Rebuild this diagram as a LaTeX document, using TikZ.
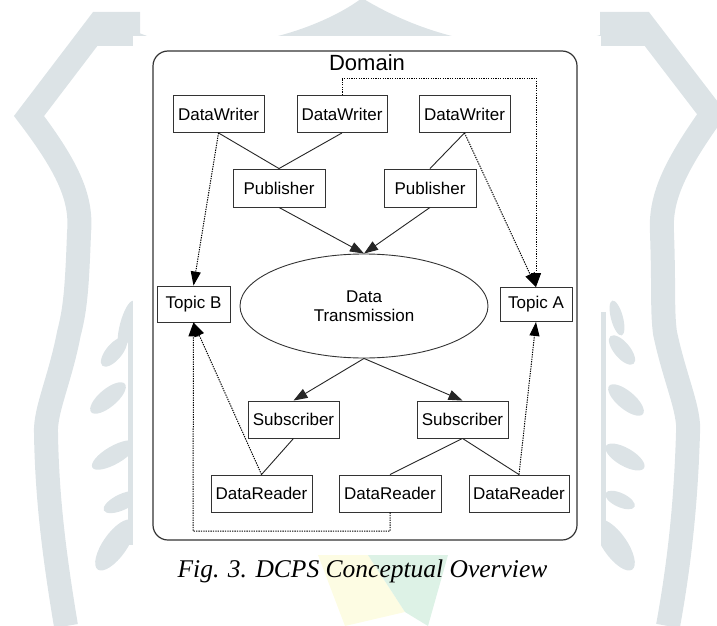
\documentclass[tikz,border=0pt]{standalone}
\usepackage{fontspec}
\setmainfont{Liberation Sans}
\newfontfamily\capfont{Liberation Serif}
\usetikzlibrary{arrows.meta,shapes.geometric}
\definecolor{wm}{HTML}{DCE3E6}
\definecolor{wmy}{HTML}{FDFCE3}
\definecolor{wmg}{HTML}{DDF2E6}
\begin{document}
\begin{tikzpicture}[x=1pt,y=-1pt,
  box/.style={draw=black!80, line width=0.9pt, inner sep=0pt, minimum height=37pt,
    font=\fontsize{17}{19}\selectfont, fill=white},
  link/.style={draw=black!85, line width=0.9pt},
  tip/.style={-{Triangle[length=14pt,width=10pt]}},
  arr/.style={link, tip},
  dot/.style={draw=black, line width=1pt, dash pattern=on 1.3pt off 1.1pt},
  dotarr/.style={dot, tip},
  leaf/.style={fill=wm},
]
\useasboundingbox (0,0) rectangle (717,626);
% ---- watermark ----
\fill[wmy] (318,555) -- (368,555) -- (405,612) -- (345,626) -- cycle;
\fill[wmg] (368,555) -- (448,555) -- (428,626) -- (405,612) -- cycle;
\fill[wm] (96,13) .. controls (130,30) and (160,45) .. (200,46)
  .. controls (280,46) and (340,15) .. (362,-2)
  .. controls (390,15) and (450,46) .. (530,46)
  .. controls (580,46) and (620,30) .. (647,13) -- (647,46) -- (96,46) -- cycle;
\draw[wm, line width=24pt, line join=miter]
  (140,24) -- (99,24) -- (29,116) .. controls (70,170) and (82,200) .. (79,233)
  .. controls (77,290) and (75,310) .. (69,333) .. controls (60,380) and (45,410) .. (46,433)
  .. controls (47,500) and (55,560) .. (66,626);
\draw[wm, line width=24pt, line join=miter]
  (600,24) -- (643,24) -- (712,114) .. controls (672,170) and (660,200) .. (662,233)
  .. controls (664,290) and (662,310) .. (665,333) .. controls (675,380) and (690,410) .. (688,433)
  .. controls (686,500) and (680,560) .. (668,626);
% leaves left
\fill[wm] (128,312) rectangle (134,545);
\fill[leaf, rotate around={-15:(127,325)}] (127,325) ellipse (7 and 25);
\fill[leaf, rotate around={-40:(114,352)}] (114,352) ellipse (8 and 18);
\fill[leaf, rotate around={-50:(108,398)}] (108,398) ellipse (9 and 22);
\fill[leaf, rotate around={-60:(114,455)}] (114,455) ellipse (9 and 25);
\fill[leaf, rotate around={-65:(122,502)}] (122,502) ellipse (8 and 20);
\fill[leaf, rotate around={-35:(115,545)}] (115,545) ellipse (12 and 30);
% leaves right
\fill[wm] (600,312) rectangle (606,545);
\fill[leaf, rotate around={15:(617,318)}] (617,318) ellipse (6 and 18);
\fill[leaf, rotate around={40:(622,350)}] (622,350) ellipse (8 and 18);
\fill[leaf, rotate around={50:(626,400)}] (626,400) ellipse (9 and 22);
\fill[leaf, rotate around={60:(625,457)}] (625,457) ellipse (9 and 22);
\fill[leaf, rotate around={65:(620,500)}] (620,500) ellipse (7 and 16);
\fill[leaf, rotate around={35:(615,545)}] (615,545) ellipse (12 and 30);
% white panel
\fill[white] (133,36) rectangle (601,555);

% ---- diagram ----
\node[draw=black!80, line width=1.2pt, rounded corners=15pt, minimum width=424pt,
  minimum height=489pt, inner sep=0pt] (domain) at (365,295.5) {};
\node[font=\fontsize{22}{24}\selectfont, inner sep=0pt] (dlabel) at (367,63) {Domain};

\node[box, minimum width=91pt] (dw1) at (218.5,114) {DataWriter};
\node[box, minimum width=90pt] (dw2) at (342,114) {DataWriter};
\node[box, minimum width=91pt] (dw3) at (464.5,114) {DataWriter};
\node[box, minimum width=92pt, minimum height=38pt] (pub1) at (279,188) {Publisher};
\node[box, minimum width=92pt, minimum height=38pt] (pub2) at (430,188) {Publisher};
\node[box, minimum width=73pt, minimum height=36pt] (tb) at (193.5,304) {Topic B};
\node[box, minimum width=72pt, minimum height=34pt] (ta) at (536,304.5) {Topic A};
\node[draw=black!80, line width=0.9pt, ellipse, minimum width=248pt, minimum height=104pt,
  inner sep=0pt, align=center, font=\fontsize{17}{19}\selectfont] (dt) at (364,306) {Data\\Transmission};
\node[box, minimum width=91pt] (sub1) at (293.5,419.5) {Subscriber};
\node[box, minimum width=91pt] (sub2) at (462.5,419.5) {Subscriber};
\node[box, minimum width=101pt] (dr1) at (261.5,493.5) {DataReader};
\node[box, minimum width=102pt] (dr2) at (390,493.5) {DataReader};
\node[box, minimum width=100pt] (dr3) at (519,493.5) {DataReader};

\coordinate (c1) at (ta.north |- 0,78);
\coordinate (c2) at (193,531);

\draw[link] (dw1.south) -- (pub1.north);
\draw[link] (dw2.south) -- (pub1.north);
\draw[link] (dw3.south) -- (pub2.north);
\draw[arr] (pub1.south) -- (dt.north);
\draw[arr] (pub2.south) -- (dt.north);
\draw[arr] (dt.south) -- (sub1.north);
\draw[arr] (dt.south) -- (sub2.north);
\draw[link] (sub1.south) -- (dr1.north);
\draw[link] (sub2.south) -- (dr2.north);
\draw[link] (sub2.south) -- (dr3.north);

\draw[dotarr] (dw1.south) -- (tb.north);
\draw[dotarr] (dw3.south) -- (ta.north);
\draw[dotarr] (dw2.north) |- (c1) -- (ta.north);
\draw[dotarr] (dr1.north) -- (tb.south);
\draw[dotarr] (dr2.south) |- (c2) -- (tb.south);
\draw[dotarr] (dr3.north) -- (ta.south);

\node[font=\capfont\itshape\fontsize{25.5}{28}\selectfont, inner sep=0pt] (cap) at (362.5,571) {Fig. 3. DCPS Conceptual Overview};
\end{tikzpicture}
\end{document}
